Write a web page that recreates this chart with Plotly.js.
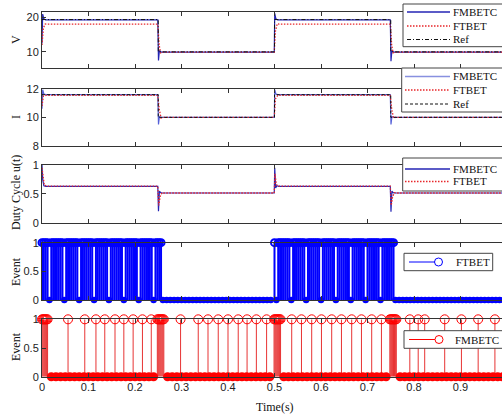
<!DOCTYPE html>
<html><head><meta charset="utf-8">
<script src="https://cdn.plot.ly/plotly-3.0.1.min.js"></script>
<style>html,body{margin:0;padding:0;overflow:hidden;background:#fff;} #chart{width:507px;height:414px;}</style>
</head><body><div id="chart"></div>
<script>
// ---------- Panel 1: voltage V ----------
const vTimeFMBETC = [0, 0.0015, 0.004, 0.008, 0.249, 0.2505, 0.2525, 0.256, 0.4995, 0.5005, 0.503, 0.507, 0.749, 0.7505, 0.7525, 0.756, 1.0];
const vFMBETC     = [12.5, 21.0, 19.6, 19.3, 19.3, 7.5, 10.4, 9.95, 9.95, 21.2, 19.6, 19.3, 19.3, 7.3, 10.4, 9.95, 9.95];
const vTimeFTBET  = [0, 0.003, 0.007, 0.012, 0.249, 0.252, 0.255, 0.259, 0.4995, 0.502, 0.506, 0.51, 0.749, 0.752, 0.755, 0.759, 1.0];
const vFTBET      = [12, 17, 18.1, 18.05, 18.05, 12, 9.7, 9.95, 9.95, 16, 18.2, 18.05, 18.05, 12, 9.7, 9.95, 9.95];
const vTimeRef    = [0, 0.25, 0.25, 0.5, 0.5, 0.75, 0.75, 1.0];
const vRef        = [19.4, 19.4, 10, 10, 19.4, 19.4, 10, 10];

// ---------- Panel 2: current I ----------
const iTimeFMBETC = [0, 0.0015, 0.004, 0.008, 0.249, 0.2505, 0.2525, 0.256, 0.4995, 0.5005, 0.503, 0.507, 0.749, 0.7505, 0.7525, 0.756, 1.0];
const iFMBETC     = [10.6, 11.95, 11.65, 11.6, 11.6, 9.5, 10.05, 10.0, 10.0, 11.95, 11.65, 11.6, 11.6, 9.5, 10.05, 10.0, 10.0];
const iTimeFTBET  = [0, 0.003, 0.008, 0.249, 0.252, 0.256, 0.26, 0.4995, 0.502, 0.507, 0.749, 0.752, 0.756, 0.76, 1.0];
const iFTBET      = [10.8, 11.5, 11.55, 11.55, 10.6, 9.95, 10.0, 10.0, 11.3, 11.55, 11.55, 10.6, 9.95, 10.0, 10.0];
const iTimeRef    = [0, 0.25, 0.25, 0.5, 0.5, 0.75, 0.75, 1.0];
const iRef        = [11.6, 11.6, 10, 10, 11.6, 11.6, 10, 10];

// ---------- Panel 3: duty cycle u(t) ----------
const uTimeFMBETC = [0, 0.0015, 0.004, 0.008, 0.249, 0.2505, 0.2525, 0.255, 0.259, 0.4995, 0.5005, 0.5025, 0.505, 0.509, 0.749, 0.7505, 0.7525, 0.755, 0.759, 1.0];
const uFMBETC     = [1.0, 0.75, 0.64, 0.63, 0.63, 0.2, 0.55, 0.52, 0.515, 0.515, 0.95, 0.6, 0.64, 0.63, 0.63, 0.19, 0.55, 0.52, 0.515, 0.515];
const uTimeFTBET  = [0, 0.002, 0.005, 0.01, 0.249, 0.251, 0.254, 0.258, 0.262, 0.4995, 0.501, 0.504, 0.508, 0.749, 0.751, 0.754, 0.758, 0.762, 1.0];
const uFTBET      = [0.95, 0.8, 0.65, 0.635, 0.635, 0.3, 0.45, 0.52, 0.515, 0.515, 0.85, 0.66, 0.635, 0.635, 0.3, 0.45, 0.52, 0.515, 0.515];

// ---------- Panel 4: FTBET events ----------
const eventLevel = 1;
const ftbetEventTimes = [0,0.004,0.008,0.012,0.02,0.024,0.028,0.032,0.036,0.04,0.044,0.052,0.056,0.06,0.064,0.068,0.072,0.076,0.084,0.088,0.092,0.096,0.1,0.104,0.108,0.116,0.12,0.124,0.128,0.132,0.136,0.14,0.148,0.152,0.156,0.16,0.164,0.168,0.172,0.18,0.184,0.188,0.192,0.196,0.2,0.204,0.212,0.216,0.22,0.224,0.228,0.232,0.236,0.244,0.248,0.252,0.256,
  0.5,0.508,0.512,0.516,0.52,0.524,0.528,0.532,0.54,0.544,0.548,0.552,0.556,0.56,0.564,0.572,0.576,0.58,0.584,0.588,0.592,0.596,0.604,0.608,0.612,0.616,0.62,0.624,0.628,0.636,0.64,0.644,0.648,0.652,0.656,0.66,0.668,0.672,0.676,0.68,0.684,0.688,0.692,0.7,0.704,0.708,0.712,0.716,0.72,0.724,0.732,0.736,0.74,0.744,0.748,0.752,0.756];
const ftbetIdleTimes = [0.016,0.048,0.08,0.112,0.144,0.176,0.208,0.24,
  0.26,0.268,0.276,0.284,0.292,0.3,0.308,0.316,0.324,0.332,0.34,0.348,0.356,0.364,0.372,0.38,0.388,0.396,0.404,0.412,0.42,0.428,0.436,0.444,0.452,0.46,0.468,0.476,0.484,0.492,
  0.504,0.536,0.568,0.6,0.632,0.664,0.696,0.728,
  0.76,0.768,0.776,0.784,0.792,0.8,0.808,0.816,0.824,0.832,0.84,0.848,0.856,0.864,0.872,0.88,0.888,0.896,0.904,0.912,0.92,0.928,0.936,0.944,0.952,0.96,0.968,0.976,0.984,0.992,1.0];

// ---------- Panel 5: FMBETC events ----------
const fmbetcEventTimes = [0,0.002,0.004,0.006,0.008,0.01,0.012,
  0.056,0.092,0.116,0.135,0.157,0.176,0.196,0.216,0.235,
  0.248,0.25,0.252,0.254,0.256,0.258,0.26,0.262,
  0.298,0.336,0.357,0.379,0.4,0.422,0.441,0.461,0.483,
  0.499,0.501,0.503,0.505,0.507,0.509,0.511,0.513,
  0.537,0.558,0.58,0.601,0.623,0.644,0.666,0.687,0.709,0.73,
  0.748,0.75,0.752,0.754,0.756,0.758,0.76,0.762,
  0.791,0.809,0.823,0.866,0.902,0.938,0.974];
const fmbetcIdleTimes = [0.02,0.03,0.04,0.05,0.06,0.07,0.08,0.09,0.1,0.11,0.12,0.13,0.14,0.15,0.16,0.17,0.18,0.19,0.2,0.21,0.22,0.23,0.24,
  0.27,0.28,0.29,0.3,0.31,0.32,0.33,0.34,0.35,0.36,0.37,0.38,0.39,0.4,0.41,0.42,0.43,0.44,0.45,0.46,0.47,0.48,0.49,
  0.52,0.53,0.54,0.55,0.56,0.57,0.58,0.59,0.6,0.61,0.62,0.63,0.64,0.65,0.66,0.67,0.68,0.69,0.7,0.71,0.72,0.73,0.74,
  0.77,0.78,0.79,0.8,0.81,0.82,0.83,0.84,0.85,0.86,0.87,0.88,0.89,0.9,0.91,0.92,0.93,0.94,0.95,0.96,0.97,0.98,0.99,1.0];

const xTicks = [0,0.1,0.2,0.3,0.4,0.5,0.6,0.7,0.8,0.9,1];
const xTickText = ['0','0.1','0.2','0.3','0.4','0.5','0.6','0.7','0.8','0.9',''];
const seriesNames = {fmbetc: 'FMBETC', ftbet: 'FTBET', ref: 'Ref'};

// ---------- styles ----------
const BLUE = '#2424b4', BLUE2 = '#5560d8', RED = '#e8262a', BLACK = '#111';
const STEM_BLUE = '#0000ff', STEM_RED = '#ff0000';
const DOT = '1.5px,1.5px', DASH = '3px,2px', DASHDOT = '4px,2px,1px,2px';

// ---------- build ----------
function stems(times, level) {
  const x = [], y = [];
  times.forEach(t => { x.push(t, t, null); y.push(0, level, null); });
  return {x, y};
}
const traces = [];
function line(x, y, ax, color, dash, w) {
  traces.push({x: x, y: y, mode: 'lines', line: {color: color, width: w, dash: dash}, xaxis: 'x' + ax, yaxis: 'y' + ax, showlegend: false});
}
line(vTimeFMBETC, vFMBETC, '', BLUE, 'solid', 1.2);
line(vTimeFTBET, vFTBET, '', RED, DOT, 1.3);
line(vTimeRef, vRef, '', BLACK, DASHDOT, 1);
line(iTimeFMBETC, iFMBETC, '2', BLUE2, 'solid', 1.2);
line(iTimeFTBET, iFTBET, '2', RED, DOT, 1.3);
line(iTimeRef, iRef, '2', BLACK, DASH, 1);
line(uTimeFMBETC, uFMBETC, '3', BLUE, 'solid', 1.2);
line(uTimeFTBET, uFTBET, '3', RED, DOT, 1.3);
// P4
const s4 = stems(ftbetEventTimes, eventLevel);
traces.push({x: s4.x, y: s4.y, mode: 'lines', line: {color: STEM_BLUE, width: 2}, xaxis: 'x4', yaxis: 'y4', showlegend: false});
traces.push({x: ftbetEventTimes, y: ftbetEventTimes.map(() => eventLevel), mode: 'markers', marker: {symbol: 'circle-open', size: 7, color: STEM_BLUE, line: {width: 2, color: STEM_BLUE}}, cliponaxis: false, xaxis: 'x4', yaxis: 'y4', showlegend: false});
traces.push({x: ftbetIdleTimes, y: ftbetIdleTimes.map(() => 0), mode: 'markers', marker: {symbol: 'circle', size: 6.5, color: STEM_BLUE, line: {width: 0}}, cliponaxis: false, xaxis: 'x4', yaxis: 'y4', showlegend: false});
// P5
const s5 = stems(fmbetcEventTimes, eventLevel);
traces.push({x: s5.x, y: s5.y, mode: 'lines', line: {color: 'rgba(225,0,0,0.8)', width: 1}, xaxis: 'x5', yaxis: 'y5', showlegend: false});
traces.push({x: fmbetcEventTimes, y: fmbetcEventTimes.map(() => eventLevel), mode: 'markers', marker: {symbol: 'circle-open', size: 9, color: STEM_RED, line: {width: 1, color: STEM_RED}}, cliponaxis: false, xaxis: 'x5', yaxis: 'y5', showlegend: false});
traces.push({x: fmbetcIdleTimes, y: fmbetcIdleTimes.map(() => 0), mode: 'markers', marker: {symbol: 'circle', size: 9, color: STEM_RED, line: {width: 0}}, cliponaxis: false, xaxis: 'x5', yaxis: 'y5', showlegend: false});

// ---------- axes ----------
const tickFont = {family: 'Liberation Sans, Arial, sans-serif', size: 11, color: '#222'};
const serif = 'Liberation Serif, Times New Roman, serif';
function xa(anchor, labels) {
  return {anchor: anchor, domain: [0, 1], range: [0, 1], tickvals: xTicks, ticktext: xTickText, showticklabels: labels,
    ticks: 'inside', ticklen: 4, tickcolor: '#333', showline: true, linecolor: '#333', linewidth: 1, mirror: 'ticks',
    showgrid: false, zeroline: false, tickfont: tickFont, fixedrange: true};
}
function ya(anchor, dom, rng, tv) {
  return {anchor: anchor, domain: dom, range: rng, tickvals: tv, ticks: 'inside', ticklen: 4, tickcolor: '#333',
    showline: true, linecolor: '#333', linewidth: 1, mirror: 'ticks', showgrid: false, zeroline: false, tickfont: tickFont, fixedrange: true};
}
// pixel -> paper helpers (figure 507x414, plot from x=42 to 507)
const PX = p => (p - 42) / 465;
const PY = p => 1 - p / 414;

const shapes = [], annotations = [];
function ytitle(text, py) {
  annotations.push({text: text, xref: 'paper', yref: 'paper', x: PX(16), y: PY(py), xanchor: 'center', yanchor: 'middle',
    textangle: -90, showarrow: false, font: {family: serif, size: 12, color: '#111'}});
}
ytitle('V', 40); ytitle('I', 117); ytitle('Duty Cycle u(t)', 193); ytitle('Event', 272); ytitle('Event', 347);
annotations.push({text: 'Time(s)', xref: 'paper', yref: 'paper', x: 0.5, y: PY(406.5), xanchor: 'center', yanchor: 'middle', showarrow: false, font: {family: serif, size: 12, color: '#111'}});

// legend boxes
function legendBox(x0, y0, x1, y1, items) {
  shapes.push({type: 'rect', xref: 'paper', yref: 'paper', x0: PX(x0), x1: PX(x1), y0: PY(y1), y1: PY(y0),
    fillcolor: '#fff', line: {color: '#444', width: 1}});
  items.forEach(it => {
    shapes.push({type: 'line', xref: 'paper', yref: 'paper', x0: PX(it.l0), x1: PX(it.l1), y0: PY(it.y), y1: PY(it.y),
      line: {color: it.color, width: it.w || 1, dash: it.dash || 'solid'}});
    if (it.marker) {
      const r = 4;
      shapes.push({type: 'circle', xref: 'paper', yref: 'paper', x0: PX(it.marker - r), x1: PX(it.marker + r), y0: PY(it.y + r), y1: PY(it.y - r),
        fillcolor: 'rgba(0,0,0,0)', line: {color: it.color, width: 1}});
    }
    annotations.push({text: it.name, xref: 'paper', yref: 'paper', x: PX(it.tx), y: PY(it.y), xanchor: 'left', yanchor: 'middle',
      showarrow: false, borderpad: 0, font: {family: serif, size: 11, color: '#111'}});
  });
}
legendBox(403, 4, 512, 46.7, [
  {name: seriesNames.fmbetc, y: 12, l0: 407, l1: 450, tx: 452, color: BLUE, w: 1.3},
  {name: seriesNames.ftbet, y: 26, l0: 407, l1: 450, tx: 452, color: RED, dash: DOT, w: 1.3},
  {name: seriesNames.ref, y: 39.5, l0: 407, l1: 450, tx: 452, color: BLACK, dash: DASHDOT}]);
legendBox(401.7, 68, 512, 112, [
  {name: seriesNames.fmbetc, y: 76.5, l0: 405, l1: 450, tx: 452, color: '#8890e0', w: 1.3},
  {name: seriesNames.ftbet, y: 90, l0: 405, l1: 450, tx: 452, color: RED, dash: DOT, w: 1.3},
  {name: seriesNames.ref, y: 104, l0: 405, l1: 450, tx: 452, color: BLACK, dash: DASH}]);
legendBox(402.7, 158, 512, 191, [
  {name: seriesNames.fmbetc, y: 169, l0: 405, l1: 450, tx: 452, color: BLUE, w: 1.3},
  {name: seriesNames.ftbet, y: 181.5, l0: 405, l1: 450, tx: 452, color: RED, dash: DOT, w: 1.3}]);
legendBox(404, 253.3, 492.7, 270.7, [
  {name: seriesNames.ftbet, y: 262, l0: 409, l1: 434.5, marker: 438.5, tx: 455, color: STEM_BLUE}]);
legendBox(404, 330.7, 512, 348.3, [
  {name: seriesNames.fmbetc, y: 339.5, l0: 409, l1: 435, marker: 439, tx: 454, color: STEM_RED}]);

const layout = {
  width: 507, height: 414, margin: {l: 42, r: 0, t: 0, b: 0}, paper_bgcolor: '#fff', plot_bgcolor: '#fff',
  xaxis: xa('y', false), xaxis2: xa('y2', false), xaxis3: xa('y3', false), xaxis4: xa('y4', false), xaxis5: xa('y5', true),
  yaxis: ya('x', [0.8357, 0.9710], [5.3, 21.6], [10, 20]),
  yaxis2: ya('x2', [0.6481, 0.7850], [8, 12], [8, 10, 12]),
  yaxis3: ya('x3', [0.4621, 0.6014], [0, 1], [0, 0.5, 1]),
  yaxis4: ya('x4', [0.2754, 0.4138], [0, 1], [0, 0.5, 1]),
  yaxis5: ya('x5', [0.0901, 0.2287], [0, 1], [0, 0.5, 1]),
  shapes: shapes, annotations: annotations, showlegend: false
};
Plotly.newPlot('chart', traces, layout, {staticPlot: true, displayModeBar: false});
</script></body></html>
